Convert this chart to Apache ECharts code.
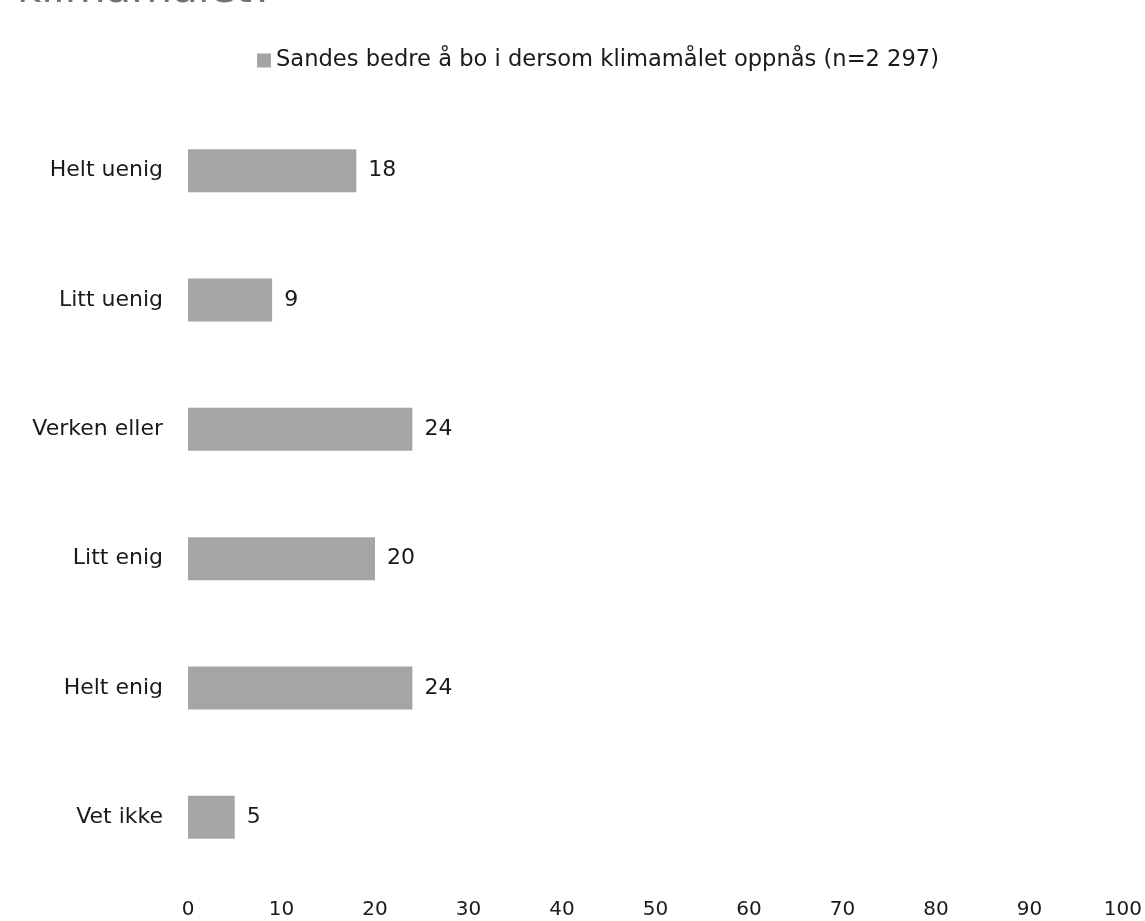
<!DOCTYPE html>
<html><head><meta charset="utf-8">
<script src="https://cdn.jsdelivr.net/npm/echarts@6/dist/echarts.min.js"></script>
<style>html,body{margin:0;padding:0;background:#fff}#c{width:1145px;height:921px}</style>
</head><body><div id="c"></div>
<script>
const titleText = 'klimamålet?';
const seriesName = 'Sandes bedre å bo i dersom klimamålet oppnås (n=2 297)';
const categories = ['Helt uenig', 'Litt uenig', 'Verken eller', 'Litt enig', 'Helt enig', 'Vet ikke'];
const values = [18, 9, 24, 20, 24, 5];
const xTicks = [0, 100, 10];

const FONT = '"DejaVu Sans", "Noto Sans", sans-serif';
const chart = echarts.init(document.getElementById('c'));
chart.setOption({
  animation: false,
  backgroundColor: '#fff',
  graphic: [{
    type: 'text', x: 17, y: -9,
    style: { text: titleText, font: '42px "DejaVu Sans", sans-serif', fill: '#77706e', verticalAlign: 'middle' }
  }],
  legend: {
    top: 44, left: 252,
    itemWidth: 14, itemHeight: 14, itemGap: 4,
    icon: 'rect',
    textStyle: { fontFamily: FONT, fontSize: 22.6, color: '#1a1a1a' },
    data: [seriesName]
  },
  grid: { left: 188, right: 17, top: 106, bottom: 39, containLabel: false },
  xAxis: {
    type: 'value', min: xTicks[0], max: xTicks[1], interval: xTicks[2],
    axisLine: { show: false }, axisTick: { show: false }, splitLine: { show: false },
    axisLabel: { margin: 18, fontFamily: FONT, fontSize: 20, color: '#1a1a1a' }
  },
  yAxis: {
    type: 'category', inverse: true, data: categories,
    axisLine: { show: false }, axisTick: { show: false },
    axisLabel: { margin: 25, fontFamily: FONT, fontSize: 22, color: '#1a1a1a', padding: [4, 0, 0, 0] }
  },
  series: [{
    name: seriesName, type: 'bar', data: values,
    barWidth: 43,
    itemStyle: { color: '#a5a5a5' },
    label: { show: true, position: 'right', distance: 12,
      fontFamily: FONT, fontSize: 22, color: '#1a1a1a' }
  }]
});
</script></body></html>
